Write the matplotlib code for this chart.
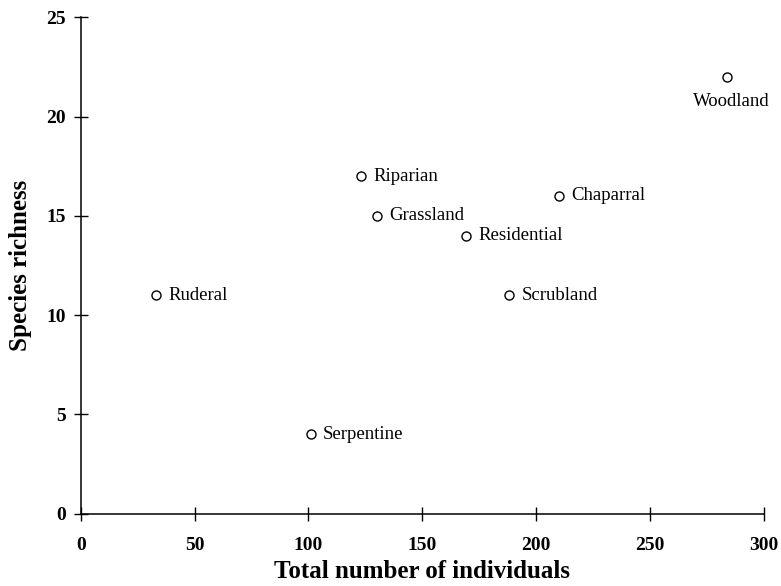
import matplotlib
matplotlib.use("Agg")
import matplotlib.pyplot as plt

habitats = ["Woodland", "Chaparral", "Riparian", "Grassland", "Residential",
            "Scrubland", "Ruderal", "Serpentine"]
individuals = [284, 210, 123, 130, 169, 188, 33, 101]
richness = [22, 16, 17, 15, 14, 11, 11, 4]

x_ticks = [0, 50, 100, 150, 200, 250, 300]
y_ticks = [0, 5, 10, 15, 20, 25]

plt.rcParams["font.family"] = ["Liberation Serif", "DejaVu Serif"]

fig = plt.figure(figsize=(7.81, 5.86), dpi=100)
ax = fig.add_axes([0.1033, 0.1234, 0.8747, 0.8471])

ax.plot(individuals, richness, linestyle="none", marker="o", markersize=6.5,
        markerfacecolor="white", markeredgecolor="black", markeredgewidth=1.0,
        clip_on=False, zorder=3)

for name, xv, yv in zip(habitats, individuals, richness):
    if name == "Woodland":
        ax.annotate(name, (xv, yv), xytext=(3, -18), textcoords="offset points",
                    ha="center", va="center", fontsize=13.5)
    else:
        ax.annotate(name, (xv, yv), xytext=(9, 0), textcoords="offset points",
                    ha="left", va="center", fontsize=13.5)

ax.set_xlim(0, 300)
ax.set_ylim(0, 25)
ax.set_xticks(x_ticks)
ax.set_yticks(y_ticks)
ax.tick_params(direction="inout", length=9.5, width=1.0, labelsize=14)
ax.tick_params(axis="x", pad=12)
ax.tick_params(axis="y", pad=6)
for lab in ax.get_xticklabels() + ax.get_yticklabels():
    lab.set_fontweight("bold")

for side in ("top", "right"):
    ax.spines[side].set_visible(False)
for side in ("left", "bottom"):
    ax.spines[side].set_linewidth(1.1)

ax.set_xlabel("Total number of individuals", fontsize=18, fontweight="bold", labelpad=4)
ax.set_ylabel("Species richness", fontsize=18, fontweight="bold", labelpad=10)

fig.savefig("out.png", dpi=100)
